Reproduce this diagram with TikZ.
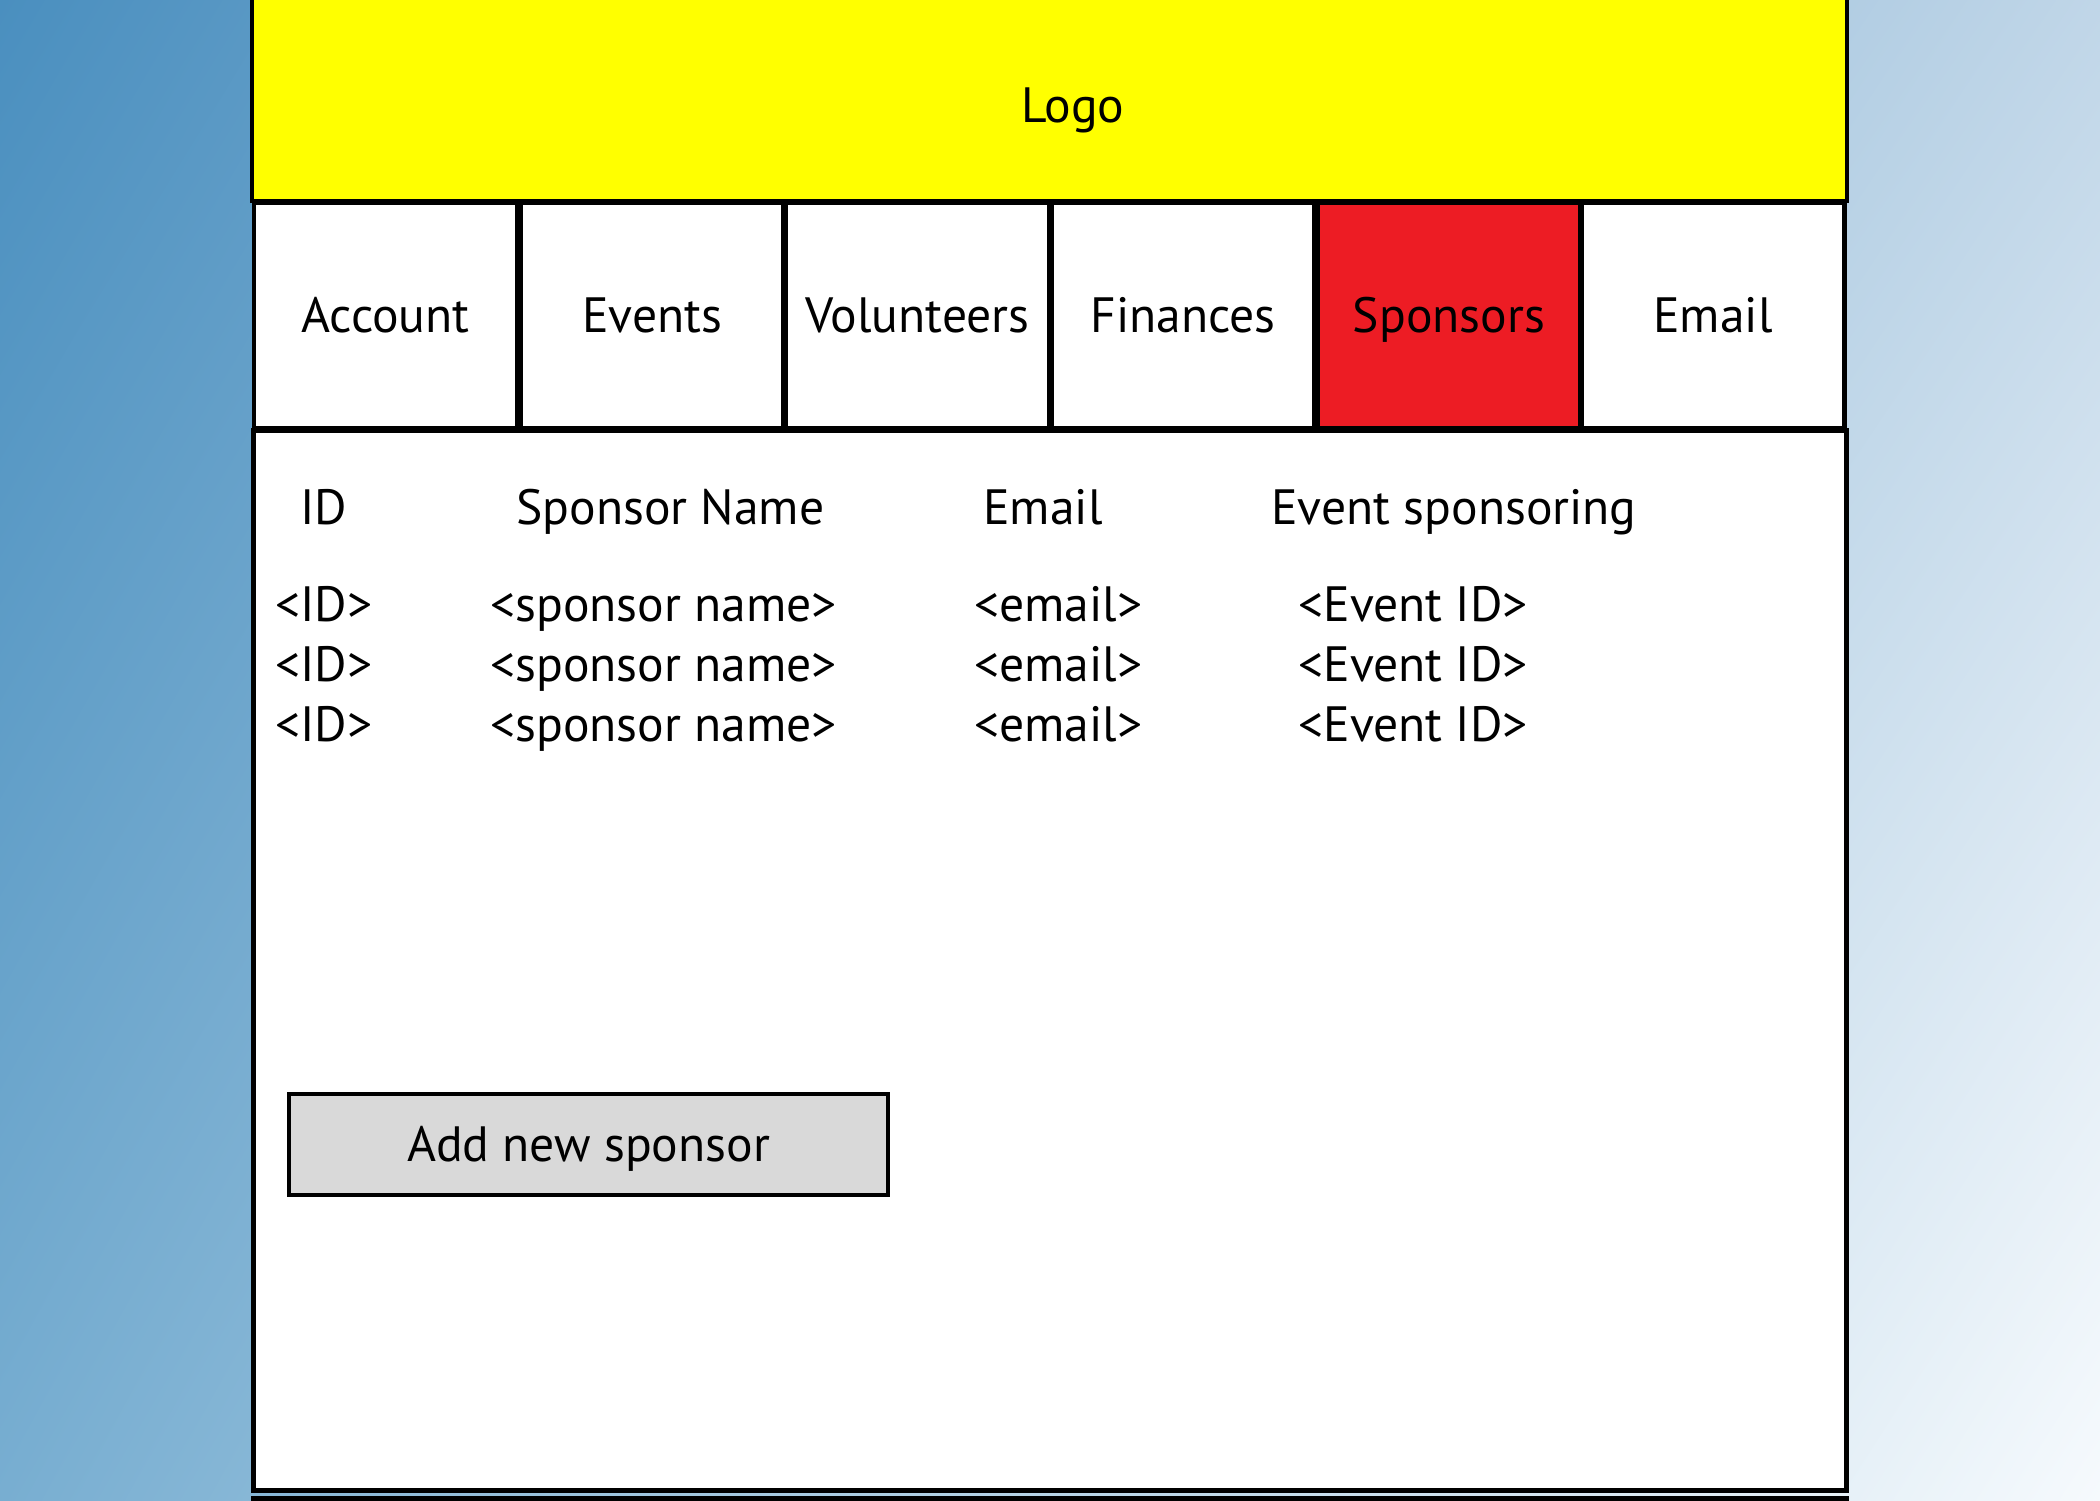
\documentclass[tikz,border=0pt]{standalone}
\usepackage{fontspec}
\setmainfont{PT Sans}
\usetikzlibrary{shadings}
\definecolor{bgTL}{RGB}{74,143,191}
\definecolor{bgTR}{RGB}{192,214,232}
\definecolor{bgBL}{RGB}{120,174,209}
\definecolor{bgBR}{RGB}{246,250,253}
\definecolor{logoyellow}{RGB}{255,255,0}
\definecolor{tabred}{RGB}{237,28,36}
\definecolor{btngray}{RGB}{217,217,217}
\tikzset{
  txt/.style={font=\fontsize{24.8}{29}\selectfont, inner sep=0pt},
  tabbox/.style={draw=black, line width=2.2pt, fill=white, minimum width=131.5pt, minimum height=112.5pt,
    inner sep=0pt, text height=17.4pt, text depth=0pt, font=\fontsize{24.8}{29}\selectfont},
  cell/.style={txt, anchor=base west},
  btn/.style={draw=black, line width=2pt, fill=btngray, minimum width=299.5pt, minimum height=50.5pt,
    inner sep=0pt, text height=17.4pt, text depth=0pt, font=\fontsize{24.8}{29}\selectfont},
}
\begin{document}
\begin{tikzpicture}[x=0.5pt,y=-0.5pt]
\useasboundingbox (0,0) rectangle (2100,1500);
\clip (0,0) rectangle (2100,1500);
% background gradient
\shade[upper left=bgTL, upper right=bgTR, lower left=bgBL, lower right=bgBR] (0,0) rectangle (2100,1500);
% logo bar
\draw[fill=logoyellow, line width=1.75pt] (252,-10) rectangle (1847,201);
\node[txt, anchor=base] (logo) at (1073,122) {Logo};
% content panel
\draw[fill=white, line width=2.5pt] (253,430) rectangle (1846,1490);
% next (cut-off) panel
\draw[fill=white, line width=2.5pt] (253,1498) rectangle (1846,1600);
% tabs
\node[tabbox] (account)    at (385.5,315.5) {Account};
\node[tabbox] (events)     at (652,315.5)   {Events};
\node[tabbox] (volunteers) at (917.5,315.5) {Volunteers};
\node[tabbox] (finances)   at (1183,315.5)  {Finances};
\node[tabbox, fill=tabred] (sponsors) at (1449,315.5) {Sponsors};
\node[tabbox] (email)      at (1713,315.5)  {Email};
% header row
\node[cell] (hid)    at (300,524)  {ID};
\node[cell] (hname)  at (516,524)  {Sponsor Name};
\node[cell] (hemail) at (983,524)  {Email};
\node[cell] (hevent) at (1271,524) {Event sponsoring};
% rows
\node[cell] (id1)  at (275,621) {<ID>};
\node[cell] (id2)  at (275,681) {<ID>};
\node[cell] (id3)  at (275,741) {<ID>};
\node[cell] (nm1)  at (490,621) {<sponsor name>};
\node[cell] (nm2)  at (490,681) {<sponsor name>};
\node[cell] (nm3)  at (490,741) {<sponsor name>};
\node[cell] (em1)  at (974,621) {<email>};
\node[cell] (em2)  at (974,681) {<email>};
\node[cell] (em3)  at (974,741) {<email>};
\node[cell] (ev1)  at (1298,621) {<Event ID>};
\node[cell] (ev2)  at (1298,681) {<Event ID>};
\node[cell] (ev3)  at (1298,741) {<Event ID>};
% button
\node[btn] (addbtn) at (588.5,1144.5) {Add new sponsor};
\end{tikzpicture}
\end{document}
